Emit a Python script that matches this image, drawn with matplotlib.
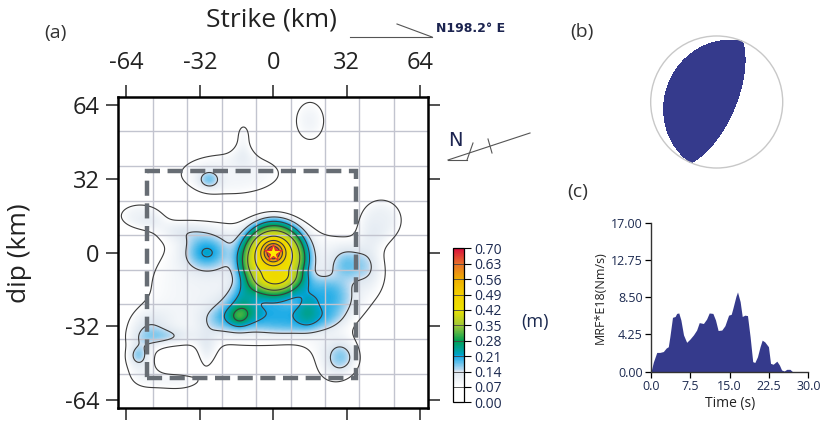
import numpy as np
import matplotlib
matplotlib.use("Agg")
import matplotlib.pyplot as plt
from matplotlib.colors import LinearSegmentedColormap
from matplotlib.patches import Rectangle, Circle
from matplotlib.lines import Line2D
from matplotlib.ticker import FormatStrFormatter

plt.rcParams['font.family'] = ['Open Sans', 'DejaVu Sans']
plt.rcParams['axes.unicode_minus'] = False

# slip asperities on the fault plane:
# centre (km), peak slip (m), widths (km), shape exponent (1 = gaussian, >1 flat top)
patch_x = [0, 0.5, -5, 8, -13, -15, -13, 15, 0, -22, 32, 25,
           -29, -19, -13, -28, 16,
           -58, -42, 47, 42,
           -58, -55, -59, -42, -29, -46, 26, 31]
patch_y = [0, -2, -14, -22, -25, -28.5, -15, -24, -30, -28, -5, -20,
           0, 34, 50, 31.5, 57,
           16, 10, 14, -5,
           -47, -32, -44.5, -56, -44, -37, -49, -45]
patch_slip = [0.28, 0.34, 0.10, 0.065, 0.05, 0.06, 0.05, 0.05, 0.04, 0.06, 0.08, 0.04,
              0.12, 0.095, 0.085, 0.08, 0.10,
              0.10, 0.08, 0.11, 0.07,
              0.10, 0.09, 0.06, 0.09, 0.08, 0.08, 0.09, 0.09]
patch_wx = [3.1, 10.5, 40, 20, 5, 3, 4, 3.5, 20, 6, 5, 6,
            7, 20, 3.5, 3.5, 7,
            8, 10, 8, 5,
            6, 8, 3, 11, 3.5, 9, 8, 5.5]
patch_wy = [3.1, 11.5, 22, 9, 5, 3, 8, 6, 5, 5, 6, 7,
            5.5, 8, 7, 3, 9.5,
            4.5, 4, 8, 8,
            8, 6, 3, 4, 6, 3, 8, 5.5]
patch_shape = [1, 2, 3, 3, 1, 1, 1, 1, 2, 1, 1, 1,
               1, 2, 1, 1, 1,
               1.5, 1, 1.5, 1,
               1, 1, 1, 1, 1, 1, 1, 1]

# rupture area outline (km)
box_x = [-55, 36]
box_y = [-54.5, 35.5]

# focal mechanism (deg)
fm_strike, fm_dip, fm_rake = 203.0, 23.0, 90.0

# moment rate function
mrf_t = [0.0, 0.45, 1.1, 1.7, 2.35, 2.9, 3.3, 3.6, 4.1, 4.6, 4.9, 5.3, 5.7, 6.2, 6.8,
         7.4, 8.1, 8.7, 9.2, 10.0, 10.6, 11.1, 11.8, 12.3, 12.8, 13.5, 14.1, 14.8, 15.3,
         15.6, 16.2, 16.5, 17.0, 17.4, 17.9, 18.4, 18.9, 19.4, 19.8, 20.3, 20.8, 21.2,
         21.7, 22.4, 22.8, 23.3, 24.0, 24.5, 24.9, 25.4, 25.9, 26.5, 27.0]
mrf_v = [0.0, 1.1, 2.2, 2.2, 2.3, 2.7, 2.85, 4.0, 6.2, 6.3, 6.65, 6.7, 5.9, 4.2, 3.35,
         3.7, 4.2, 4.75, 5.6, 5.5, 6.0, 6.7, 6.65, 5.9, 4.7, 4.75, 5.25, 6.45, 6.55,
         7.2, 8.6, 9.1, 8.0, 6.3, 6.45, 6.4, 4.0, 1.15, 1.05, 1.7, 2.85, 3.6,
         3.4, 2.85, 0.95, 0.85, 1.2, 0.75, 0.2, 0.08, 0.27, 0.27, 0.0]

slip_levels = [0.00, 0.07, 0.14, 0.21, 0.28, 0.35, 0.42, 0.49, 0.56, 0.63, 0.70]
axis_ticks = [-64, -32, 0, 32, 64]

W, H = 822, 421
fig = plt.figure(figsize=(W / 100, H / 100), dpi=100)


def fx(x):
    return x / W


def fy(y):
    return 1 - y / H


# slip colour scale
cvals = [0.0, 0.07, 0.14, 0.145, 0.21, 0.215, 0.28, 0.35, 0.42, 0.49, 0.56, 0.63, 0.70]
ccols = ['#ffffff', '#ffffff', '#dde6ef', '#c0dcf2', '#0fa8e6', '#00a3c8', '#00a050',
         '#a0c838', '#ece200', '#f3cf00', '#eeae00', '#e8702a', '#d8103c']
cmap = LinearSegmentedColormap.from_list('slip', [(v / 0.7, c) for v, c in zip(cvals, ccols)])

# ---- (a) slip distribution
ax = fig.add_axes([fx(118.3), fy(408.3), (428.3 - 118.3) / W, (408.3 - 96.7) / H])
xs = np.linspace(-67.5, 67.5, 400)
ys = np.linspace(-67.5, 67.5, 400)
X, Y = np.meshgrid(xs, ys)
slip = np.zeros_like(X)
for px, py, a, sx, sy, p in zip(patch_x, patch_y, patch_slip, patch_wx, patch_wy, patch_shape):
    q = ((X - px) ** 2 / sx ** 2 + (Y - py) ** 2 / sy ** 2) / 2
    slip += a * np.exp(-q ** p)

im = ax.imshow(slip, extent=[-67.5, 67.5, -67.5, 67.5], origin='lower', cmap=cmap,
               vmin=0, vmax=0.7, interpolation='bilinear', zorder=1)
for g in np.arange(-52.5, 53, 15):
    ax.axvline(g, color='#c2c4cf', lw=1.0, zorder=2)
    ax.axhline(g, color='#c2c4cf', lw=1.0, zorder=2)
ax.contour(X, Y, slip, levels=slip_levels[1:-1], colors='#3c3c3c', linewidths=0.8, zorder=3)
ax.add_patch(Rectangle((box_x[0], box_y[0]), box_x[1] - box_x[0], box_y[1] - box_y[0],
                       fill=False, ec='#676d74', lw=3.2, ls=(0, (3.4, 1.7)), zorder=4))
ax.plot(0, 0, marker='*', ms=13, mfc='#ffe800', mec='#e0302a', mew=0.8, zorder=5)

ax.set_xlim(-67.5, 67.5)
ax.set_ylim(-67.5, 67.5)
ax.set_xticks(axis_ticks)
ax.set_yticks(axis_ticks)
ax.tick_params(direction='out', length=8.5, width=1.2, color='#333333', labelsize=17,
               labelcolor='#222222', top=True, right=True, bottom=True, left=True,
               labeltop=True, labelbottom=False, pad=5)
ax.tick_params(axis='x', pad=7)
for s in ax.spines.values():
    s.set_linewidth(1.8)
ax.set_aspect('auto')

fig.text(fx(271), fy(20), 'Strike (km)', fontsize=19, ha='center', va='center', color='#222222')
fig.text(fx(20), fy(253), 'dip (km)', fontsize=19, ha='center', va='center', rotation=90,
         color='#222222')
fig.text(fx(55), fy(33), '(a)', fontsize=14, ha='center', va='center', color='#333333')
fig.text(fx(582), fy(32), '(b)', fontsize=14, ha='center', va='center', color='#333333')
fig.text(fx(578), fy(192), '(c)', fontsize=14, ha='center', va='center', color='#333333')

# strike direction marker
for (x0, y0), (x1, y1) in [((350, 37), (432, 37)), ((397, 24), (432, 37))]:
    fig.add_artist(Line2D([fx(x0), fx(x1)], [fy(y0), fy(y1)], color='#555555', lw=0.8))
fig.text(fx(436), fy(28), 'N198.2° E', fontsize=9, fontweight='bold', ha='left', va='center',
         color='#1c2450', family=['Liberation Sans Narrow', 'DejaVu Sans'])

# north arrow
for (x0, y0), (x1, y1) in [((448, 160), (530, 133)), ((448, 160), (467, 160)),
                           ((467, 160), (473, 143)), ((488, 139), (492, 153))]:
    fig.add_artist(Line2D([fx(x0), fx(x1)], [fy(y0), fy(y1)], color='#555555', lw=0.8))
fig.text(fx(455), fy(140), 'N', fontsize=14, ha='center', va='center', color='#1c2450',
         family=['Liberation Sans Narrow', 'DejaVu Sans'])

# colour bar
cax = fig.add_axes([fx(452.7), fy(402.3), (464.3 - 452.7) / W, (402.3 - 248.3) / H])
cb = fig.colorbar(im, cax=cax, ticks=slip_levels)
cb.ax.set_yticklabels(['%.2f' % v for v in slip_levels])
cb.ax.tick_params(labelsize=10, labelcolor='#1c2a50', length=5, width=0.8, pad=2)
cb.outline.set_linewidth(0.9)
for v in slip_levels[1:-1]:
    cb.ax.axhline(v, color='#444444', lw=0.6)
fig.text(fx(535), fy(322), '(m)', fontsize=13, ha='center', va='center', color='#1c2a50')

# ---- (b) focal mechanism, lower hemisphere equal-area
bax = fig.add_axes([fx(648.7), fy(170), 136 / W, 136 / H])
phi, dl, lam = np.radians([fm_strike, fm_dip, fm_rake])
M = np.zeros((3, 3))
M[0, 0] = -(np.sin(dl) * np.cos(lam) * np.sin(2 * phi) + np.sin(2 * dl) * np.sin(lam) * np.sin(phi) ** 2)
M[0, 1] = np.sin(dl) * np.cos(lam) * np.cos(2 * phi) + 0.5 * np.sin(2 * dl) * np.sin(lam) * np.sin(2 * phi)
M[0, 2] = -(np.cos(dl) * np.cos(lam) * np.cos(phi) + np.cos(2 * dl) * np.sin(lam) * np.sin(phi))
M[1, 1] = np.sin(dl) * np.cos(lam) * np.sin(2 * phi) - np.sin(2 * dl) * np.sin(lam) * np.cos(phi) ** 2
M[1, 2] = -(np.cos(dl) * np.cos(lam) * np.sin(phi) - np.cos(2 * dl) * np.sin(lam) * np.cos(phi))
M[2, 2] = np.sin(2 * dl) * np.sin(lam)
M[1, 0], M[2, 0], M[2, 1] = M[0, 1], M[0, 2], M[1, 2]

g = np.linspace(-1, 1, 601)
E, N = np.meshgrid(g, g)
r = np.hypot(E, N)
theta = 2 * np.arcsin(np.clip(r, 0, 1) / np.sqrt(2))
az = np.arctan2(E, N)
u = np.stack([np.sin(theta) * np.cos(az), np.sin(theta) * np.sin(az), np.cos(theta)])
amp = np.einsum('i...,ij,j...->...', u, M, u)
amp[r > 1] = np.nan
bax.contourf(E, N, amp, levels=[0, 10], colors=['#353a8c'])
bax.add_patch(Circle((0, 0), 1, fill=False, ec='#c8c8c8', lw=1.0))
bax.set_xlim(-1.03, 1.03)
bax.set_ylim(-1.03, 1.03)
bax.set_aspect('equal')
bax.axis('off')

# ---- (c) moment rate function
max_ = fig.add_axes([fx(651), fy(371.7), (808.3 - 651) / W, (371.7 - 222.7) / H])
max_.fill_between(mrf_t, mrf_v, 0, color='#353a8c', lw=0)
max_.set_xlim(0, 30)
max_.set_ylim(0, 17)
max_.set_xticks([0, 7.5, 15, 22.5, 30])
max_.set_yticks([0, 4.25, 8.5, 12.75, 17])
max_.xaxis.set_major_formatter(FormatStrFormatter('%.1f'))
max_.yaxis.set_major_formatter(FormatStrFormatter('%.2f'))
max_.spines['top'].set_visible(False)
max_.spines['right'].set_visible(False)
for s in ('left', 'bottom'):
    max_.spines[s].set_color('#333333')
    max_.spines[s].set_linewidth(1.0)
max_.tick_params(direction='out', length=4, width=0.9, labelsize=9, labelcolor='#1c2a50', pad=2)
max_.set_xlabel('Time (s)', fontsize=10, color='#222222', labelpad=2)
max_.set_ylabel('MRF*E18(Nm/s)', fontsize=9, color='#222222', labelpad=3)

fig.savefig('out.png', dpi=100)
